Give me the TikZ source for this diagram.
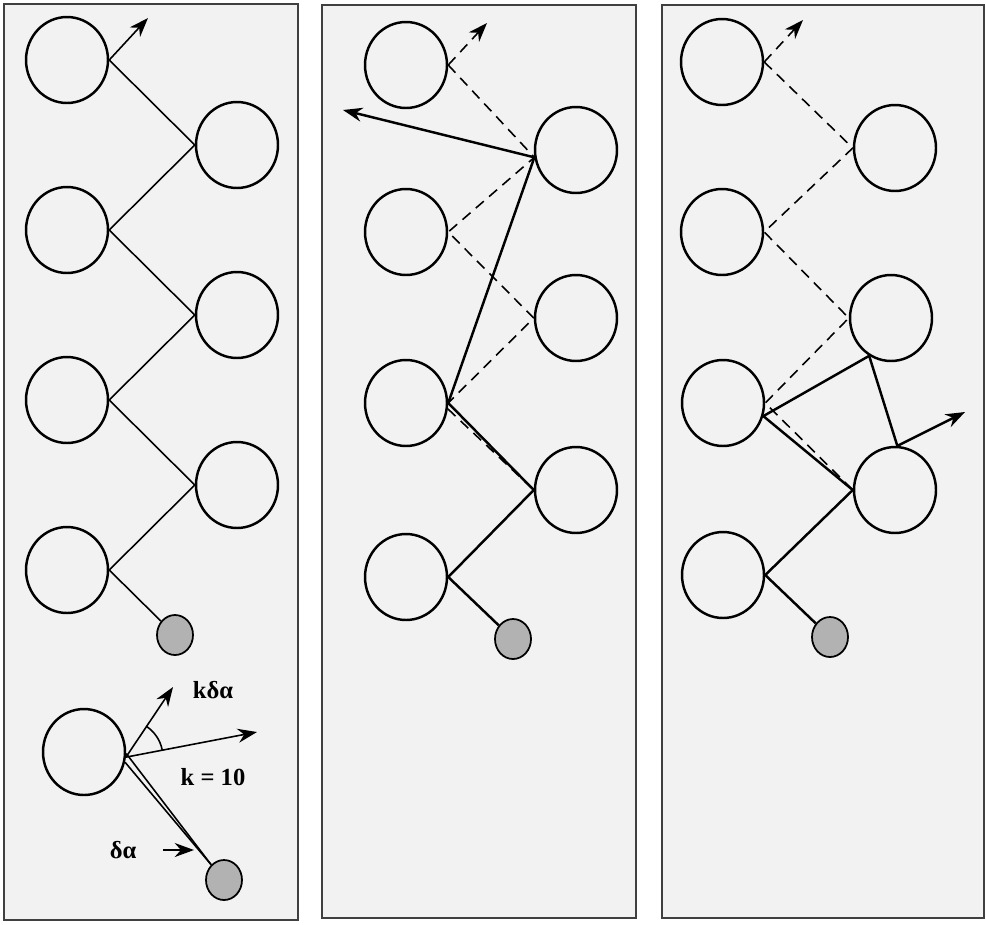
\documentclass[tikz,border=0pt]{standalone}
\usepackage{fontspec}
\setmainfont{Liberation Serif}
\usetikzlibrary{arrows.meta,shapes.geometric}

\begin{document}
\begin{tikzpicture}[
  x=0.02cm, y=-0.02cm,
  panel/.style={draw=black!75, line width=1.3pt, fill=black!5},
  mass/.style={draw, ellipse, line width=1.4pt, minimum width=1.64cm, minimum height=1.72cm, inner sep=0pt},
  bob/.style={draw, ellipse, line width=1pt, fill=black!30, minimum width=0.72cm, minimum height=0.8cm, inner sep=0pt},
  bar/.style={line width=0.9pt},
  link/.style={line width=1.4pt},
  old/.style={line width=0.9pt, dash pattern=on 6pt off 4pt},
  arrow/.style={-{Stealth[length=11pt,width=8pt]}},
  lab/.style={font=\fontsize{14}{16}\selectfont\bfseries, inner sep=1pt}
]
\useasboundingbox (0,0) rectangle (986,924);
\draw[panel] (4,4) rectangle (298,920);
\draw[panel] (322,5) rectangle (636,918);
\draw[panel] (662,5) rectangle (984,918);

\node[mass] (aL1) at (67,60) {};
\node[mass] (aL2) at (67,230) {};
\node[mass] (aL3) at (67,400) {};
\node[mass] (aL4) at (67,570) {};
\node[mass] (aR1) at (237,145) {};
\node[mass] (aR2) at (237,315) {};
\node[mass] (aR3) at (237,485) {};
\node[bob] (aG) at (175,635) {};
\coordinate (aT) at (148,18);
\draw[bar, arrow] (aL1.east) -- (aT);
\draw[bar] (aL1.east) -- (aR1.west) -- (aL2.east) -- (aR2.west) -- (aL3.east) -- (aR3.west) -- (aL4.east) -- (aG);

\node[mass] (aB) at (84,752) {};
\node[bob] (aBG) at (224,880) {};
\coordinate (piv) at (aB.-7);
\coordinate (kT) at (173,687);
\coordinate (sT) at (257,732);
\draw[bar, arrow] (piv) -- (kT);
\draw[bar, arrow] (piv) -- (sT);
\draw[bar] (piv) ++(-11.2:37) arc[start angle=-11.2, end angle=-56.5, radius=37];
\draw[bar] (aB.-2) -- (aBG.130);
\draw[bar] (aB.-14) -- (aBG.130);
\node[lab] (kda) at (213,690) {kδα};
\node[lab] (k10) at (213,777) {k = 10};
\node[lab] (da) at (123,850) {δα};
\coordinate (dtail) at (163,850);
\coordinate (dtip) at (194,850);
\draw[bar, arrow] (dtail) -- (dtip);

\node[mass] (bL1) at (406,65) {};
\node[mass] (bL2) at (406,232) {};
\node[mass] (bL3) at (406,403) {};
\node[mass] (bL4) at (406,577) {};
\node[mass] (bR1) at (576,150) {};
\node[mass] (bR2) at (576,318) {};
\node[mass] (bR3) at (576,490) {};
\node[bob] (bG) at (513,639) {};
\coordinate (bT) at (487,23);
\coordinate (bF) at (343,110);
\draw[old, arrow] (bL1.east) -- (bT);
\draw[old] (bL1.east) -- (bR1.190) -- (bL2.east) -- (bR2.west) -- (bL3.east);
\draw[old] (bL3.-8) -- (bR3.west);
\draw[link, arrow] (bR1.190) -- (bF);
\draw[link] (bR1.190) -- (bL3.east) -- (bR3.west) -- (bL4.east) -- (bG);

\node[mass] (cL1) at (722,62) {};
\node[mass] (cL2) at (722,232) {};
\node[mass] (cL3) at (723,403) {};
\node[mass] (cL4) at (723,575) {};
\node[mass] (cR1) at (895,148) {};
\node[mass] (cR2) at (891,318) {};
\node[mass] (cR3) at (895,490) {};
\node[bob] (cG) at (830,637) {};
\coordinate (cT) at (803,20);
\coordinate (cF) at (965,412);
\draw[old, arrow] (cL1.east) -- (cT);
\draw[old] (cL1.east) -- (cR1.west) -- (cL2.east) -- (cR2.west) -- (cL3.east) -- (cR3.west);
\draw[link] (cR2.240) -- (cL3.-18) -- (cR3.west) -- (cL4.east) -- (cG);
\draw[link] (cR2.240) -- (cR3.87);
\draw[link, arrow] (cR3.87) -- (cF);
\end{tikzpicture}
\end{document}
